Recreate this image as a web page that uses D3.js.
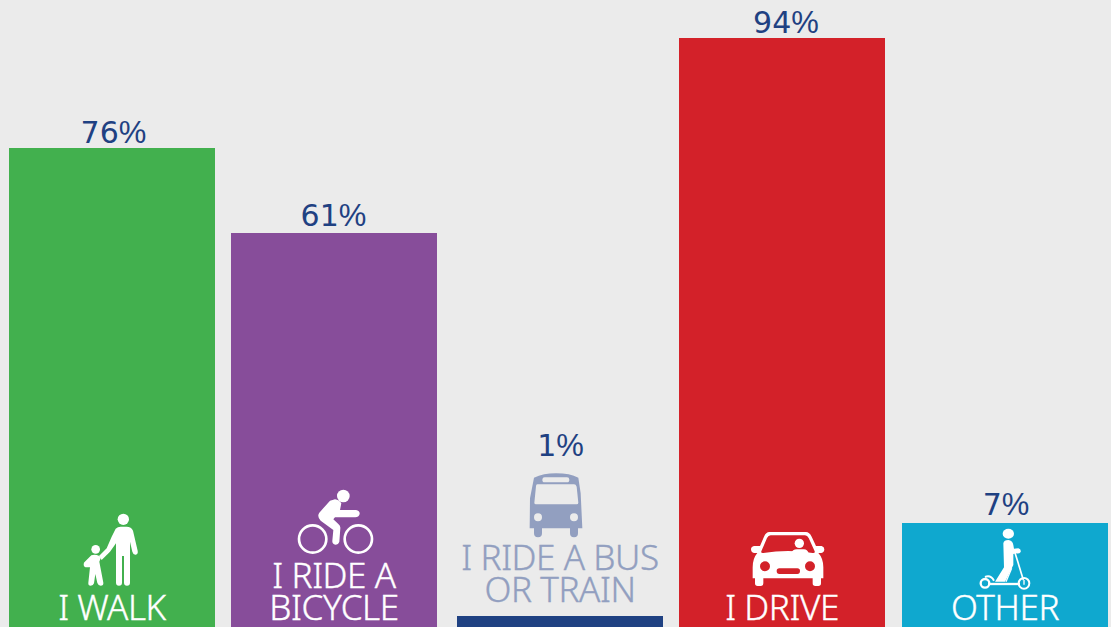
<!DOCTYPE html>
<html>
<head>
<meta charset="utf-8">
<script src="https://cdn.jsdelivr.net/npm/d3@7"></script>
<style>
  html, body { margin: 0; padding: 0; background: #ebebeb; overflow: hidden; }
  text { font-family: "Noto Sans", sans-serif; }
</style>
</head>
<body>
<div id="chart"></div>
<script>
//// data
const categories = ["walk", "bicycle", "bus", "drive", "other"];
const values = [76, 61, 1, 94, 7];
const labels = [["I WALK"], ["I RIDE A", "BICYCLE"], ["I RIDE A BUS", "OR TRAIN"], ["I DRIVE"], ["OTHER"]];
const barColors = ["#42b04e", "#874d9a", "#1f4182", "#d32129", "#0fa8cf"];

const width = 1111, height = 627;
const barWidth = 206;
const navy = "#1f4182", busInk = "#929fc0";

const svg = d3.select("#chart").append("svg")
    .attr("width", width)
    .attr("height", height)
    .style("display", "block");

// bars in the original are not spaced or scaled evenly, so the scales are piecewise
const xScale = d3.scaleLinear()
    .domain(d3.range(categories.length))
    .range([9, 231, 457, 679, 902]);

const yScale = d3.scaleLinear()
    .domain([1, 7, 61, 76, 94])
    .range([616, 523, 233, 148, 38]);

// value labels were hand placed too
const labelX = d3.scaleLinear()
    .domain(d3.range(categories.length))
    .range([113.5, 333.5, 560.5, 786, 1006]);

const labelY = d3.scaleLinear()
    .domain([1, 7, 61, 76, 94])
    .range([456, 515, 226, 143.3, 32.7]);

svg.selectAll(".bar")
    .data(categories)
    .join("rect")
    .attr("class", "bar")
    .attr("x", (d, i) => xScale(i))
    .attr("y", (d, i) => yScale(values[i]))
    .attr("width", barWidth)
    .attr("height", (d, i) => height - yScale(values[i]))
    .attr("fill", (d, i) => barColors[i]);

//// value labels
const valueText = svg.selectAll(".value")
    .data(categories)
    .join("text")
    .attr("class", "value")
    .attr("x", (d, i) => labelX(i))
    .attr("y", (d, i) => labelY(values[i]))
    .attr("text-anchor", "middle")
    .attr("fill", navy);

valueText.append("tspan")
    .style("font-family", "'DejaVu Sans'")
    .attr("font-size", 30)
    .text((d, i) => values[i]);

valueText.append("tspan")
    .style("font-family", "'Liberation Sans Narrow', 'Liberation Sans'")
    .attr("font-size", 31)
    .text("%");

//// category labels - a bar too short to hold them gets them stacked on top
const lineGap = 32;
categories.forEach((c, i) => {
    const short = height - yScale(values[i]) < 60;
    const last = short ? 602 : 620;
    const lines = labels[i];
    const ink = short ? busInk : "#fff";
    svg.append("g").selectAll("text")
        .data(lines)
        .join("text")
        .attr("x", xScale(i) + barWidth / 2)
        .attr("y", (d, j) => last - (lines.length - 1 - j) * lineGap)
        .attr("text-anchor", "middle")
        .attr("font-size", 35)
        .attr("font-weight", 300)
        .attr("letter-spacing", "-0.4px")
        .attr("fill", ink)
        .attr("stroke", ink)      // light weight alone is a bit too thin
        .attr("stroke-width", 0.4)
        .text(d => d);
});

//// icons, traced at 3x so they get scaled down by a third
const icons = {
    walk: { cx: 336, top: 480, draw: g => {
        g.append("circle").attr("cx", 370).attr("cy", 118).attr("r", 17);
        g.append("path").attr("d", "M347 146Q353 140 362 140H380Q394 140 399 152L413 212Q415 222 407 224Q400 225 397 215L390 185V308Q390 317 381 317Q372 317 372 308V228H366V308Q366 317 357 317Q348 317 348 308V190L330 215L305 240L297 228L320 205L335 170Z");
        g.append("circle").attr("cx", 287).attr("cy", 208).attr("r", 13);
        g.append("path").attr("d", "M274 226Q285 222 298 228L302 235L298 245L310 308Q311 317 302 317Q295 317 292 309L286 282L282 310Q280 317 272 317Q264 317 265 308L270 262L260 262Q252 262 251 254Q250 248 256 244Z");
    }},
    bicycle: { cx: 1002, top: 480, draw: g => {
        g.append("circle").attr("cx", 1030).attr("cy", 48).attr("r", 19);
        g.append("path").attr("d", "M1005 58Q1018 60 1024 70L1020 90H1068Q1080 92 1079 102Q1076 112 1066 112H1005L1000 118L1015 132Q1022 138 1021 145L1018 185Q1015 194 1006 194Q996 192 997 182L1000 150L962 122Q950 110 958 98L990 62Z");
        g.selectAll(".wheel").data([938, 1075]).join("circle")
            .attr("cx", d => d).attr("cy", 177).attr("r", 41)
            .attr("fill", "none").attr("stroke", "#fff").attr("stroke-width", 8);
    }},
    bus: { cx: 330, top: 425, draw: g => {
        g.append("path").attr("fill-rule", "evenodd").attr("d",
            "M252 158Q280 145 318 145Q360 145 385 158L392 205L397 310H384V325Q384 337 372 337Q360 337 360 325V310H276V325Q276 337 264 337Q252 337 252 325V310H239L240 220Z" +
            "M262 178H372Q378 178 380 185L385 233Q385 238 380 238H258Q253 238 253 233L258 184Q258 178 262 178Z" +
            "M284 157H351Q358 157 358 164Q358 172 351 172H284Q277 172 277 164Q277 157 284 157Z" +
            "M252 277a12 12 0 1 0 24 0a12 12 0 1 0 -24 0Z" +
            "M360 277a12 12 0 1 0 24 0a12 12 0 1 0 -24 0Z");
    }},
    drive: { cx: 306, top: 480, draw: g => {
        g.append("path").attr("fill-rule", "evenodd").attr("d",
            "M268 156H378Q388 156 395 170L408 198H425Q433 200 433 208Q433 217 424 219H415Q430 235 430 262V295H423V310Q423 318 415 318H406Q398 318 398 310V295H250V310Q250 318 242 318H233Q225 318 225 310V295H218V262Q218 235 232 219H222Q213 217 213 208Q213 200 222 198H240L252 170Q258 156 268 156Z" +
            "M272 166H375Q382 166 386 174L404 214Q406 220 398 219Q325 207 250 219Q242 220 244 214L261 174Q265 166 272 166Z" +
            "M240 259a15 15 0 1 0 30 0a15 15 0 1 0 -30 0Z" +
            "M375 259a15 15 0 1 0 30 0a15 15 0 1 0 -30 0Z" +
            "M298 265H352Q360 265 360 273Q360 282 352 282H298Q290 282 290 273Q290 265 298 265Z");
        g.append("circle").attr("cx", 358).attr("cy", 190).attr("r", 14);
        g.append("path").attr("d", "M333 220Q338 208 350 208H372Q382 208 386 220Z");
    }},
    other: { cx: 975, top: 480, draw: g => {
        g.append("ellipse").attr("cx", 985).attr("cy", 161).attr("rx", 17).attr("ry", 15);
        g.append("path").attr("d", "M970 190Q972 180 985 180Q998 182 1000 195L1002 206L1015 205Q1024 208 1022 216Q1018 222 1008 220L1000 222V255L975 305H945L972 262Z");
        const strokes = g.append("g").attr("fill", "none").attr("stroke", "#fff");
        strokes.append("path").attr("stroke-width", 5).attr("d", "M1005 218L1030 300");
        strokes.append("path").attr("stroke-width", 4).attr("d", "M995 265L978 305");
        strokes.append("path").attr("stroke-width", 7).attr("d", "M925 312H1020");
        strokes.append("circle").attr("stroke-width", 7).attr("cx", 915).attr("cy", 310).attr("r", 13);
        strokes.append("circle").attr("stroke-width", 6).attr("cx", 1032).attr("cy", 310).attr("r", 16);
        strokes.append("path").attr("stroke-width", 4).attr("d", "M1032 300V314");
        strokes.append("path").attr("stroke-width", 6).attr("d", "M915 291Q932 284 942 302");
    }}
};

categories.forEach((c, i) => {
    const icon = icons[c];
    const short = height - yScale(values[i]) < 60;
    const g = svg.append("g")
        .attr("transform", "translate(" + (xScale(i) + barWidth / 2 - icon.cx / 3) + "," + icon.top + ") scale(" + 1 / 3 + ")")
        .attr("fill", short ? busInk : "#fff");
    icon.draw(g);
});
</script>
</body>
</html>
